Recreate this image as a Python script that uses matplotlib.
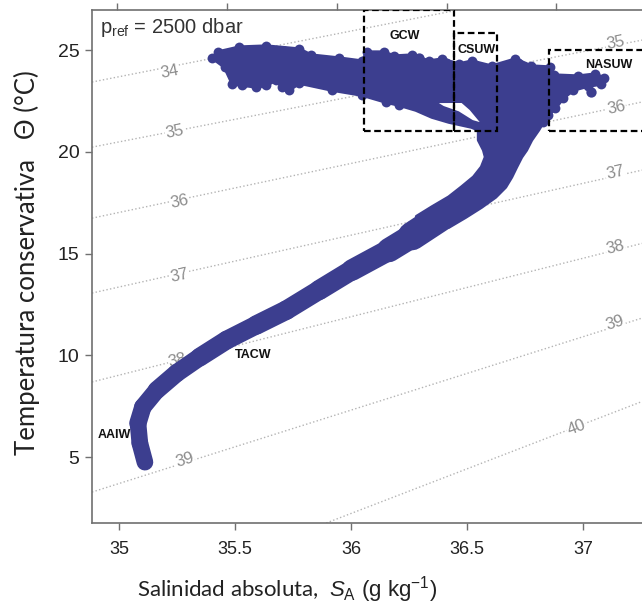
import matplotlib
matplotlib.use('Agg')
import matplotlib.pyplot as plt
from matplotlib.collections import LineCollection
from matplotlib.patches import Rectangle

# values (S_A in g/kg, Theta in degC)

# lower branch of the T-S curve: centre line and stroke width (pt)
stem_S = [35.112, 35.090, 35.082, 35.103, 35.163, 35.249, 35.348, 35.464, 35.592,
          35.721, 35.863, 36.004, 36.163, 36.262, 36.386]
stem_T = [4.75, 5.69, 6.67, 7.46, 8.29, 9.13, 9.91, 10.75, 11.49,
          12.22, 13.21, 14.19, 15.17, 15.86, 16.79]
stem_w = [12, 12, 12.5, 12.5, 13, 13, 13.5, 13.5, 14, 14, 14.5, 15.5, 17.5, 20.5]

# upper (surface) cloud plus the wide part of the stem: outline
cloud_S = [35.403, 35.425, 35.519, 35.635, 35.777, 35.828, 35.948, 36.047, 36.069,
           36.142, 36.185, 36.262, 36.335, 36.391, 36.464, 36.519, 36.605, 36.708,
           36.777, 36.858, 36.876, 36.979, 37.052, 37.090,
           37.077, 37.021, 36.957, 36.914, 36.880, 36.850, 36.828, 36.807, 36.777,
           36.755, 36.734, 36.712, 36.691, 36.665, 36.622, 36.562, 36.494, 36.421,
           36.282, 36.348, 36.421, 36.476, 36.528, 36.562, 36.579, 36.571,
           36.549, 36.549, 36.519, 36.421, 36.348, 36.279, 36.206, 36.150, 36.047,
           35.918, 35.777, 35.734, 35.704, 35.678, 35.635, 35.592, 35.532, 35.489,
           35.455]
cloud_T = [24.607, 24.902, 25.147, 25.197, 25.049, 24.754, 24.607, 24.459, 24.902,
           24.902, 24.705, 24.754, 24.459, 24.558, 24.312, 24.459, 24.214, 24.558,
           24.214, 24.165, 23.771, 23.722, 23.821, 23.624,
           23.329, 23.231, 23.034, 22.641, 22.150, 21.806, 21.462, 21.069, 20.577,
           20.086, 19.742, 19.251, 18.759, 18.268, 17.776, 17.285, 16.794, 16.302,
           16.820, 17.285, 17.776, 18.268, 18.759, 19.251, 19.742, 20.086,
           20.577, 21.069, 21.216, 21.462, 21.708, 22.052, 22.297, 22.445, 22.789,
           23.034, 23.378, 23.034, 23.182, 23.526, 23.280, 23.182, 23.280, 23.329,
           24.165]

# single points standing out of the cloud edge
bump_S = [35.433, 35.562, 35.712, 36.077, 36.185, 36.292, 36.408, 36.532, 36.721,
          37.056, 37.034, 35.541, 35.627, 35.725]
bump_T = [24.754, 24.951, 24.951, 24.754, 24.607, 24.607, 24.361, 24.263, 24.361,
          23.575, 22.936, 23.428, 23.378, 23.231]

# empty sliver inside the cloud
gap_S = [36.378, 36.476, 36.511, 36.554, 36.524, 36.464, 36.399]
gap_T = [22.396, 22.400, 22.052, 21.462, 21.560, 21.990, 22.250]

# sigma isopycnals (straight segments)
iso_levels = [34, 35, 36, 37, 38, 39, 40]
iso_S0 = [34.884, 34.884, 34.884, 34.884, 34.884, 34.884, 35.893]
iso_T0 = [23.43, 20.23, 16.74, 13.06, 8.69, 3.28, 1.76]
iso_S1 = [37.253, 37.253, 37.253, 37.253, 37.253, 37.253, 37.253]
iso_T1 = [28.75, 25.49, 22.45, 19.10, 15.50, 11.83, 7.73]
iso_rot = [11, 11, 12, 12.5, 14, 17.5, 21]

left_lab = [34, 35, 36, 37, 38, 39]
left_lab_S = [35.219, 35.240, 35.262, 35.262, 35.253, 35.283]
left_lab_T = [23.92, 20.97, 17.53, 13.94, 9.77, 4.85]
right_lab = [35, 36, 37, 38, 39, 40]
right_lab_S = [37.137, 37.142, 37.137, 37.137, 37.137, 36.970]
right_lab_T = [25.34, 22.15, 18.96, 15.32, 11.58, 6.47]

# water-mass boxes and names
box_names = ['GCW', 'CSUW', 'NASUW']
box_S0 = [36.056, 36.442, 36.854]
box_S1 = [36.442, 36.627, 37.400]
box_T0 = [21.0, 21.0, 21.0]
box_T1 = [26.95, 25.84, 25.0]
mass_names = ['GCW', 'CSUW', 'NASUW', 'TACW', 'AAIW']
mass_S = [36.23, 36.54, 37.11, 35.58, 34.98]
mass_T = [25.69, 25.02, 24.26, 10.0, 6.08]

xticks = [35, 35.5, 36, 36.5, 37]
yticks = [5, 10, 15, 20, 25]
top_ticks = [34.991, 35.464, 35.940, 36.412, 36.884]

blue = '#3c3e8f'

plt.rcParams['font.family'] = ['Liberation Sans', 'DejaVu Sans']
plt.rcParams['mathtext.fontset'] = 'custom'
plt.rcParams['mathtext.rm'] = 'Liberation Sans'
plt.rcParams['mathtext.it'] = 'Liberation Sans:italic'

fig = plt.figure(figsize=(6.42, 6.09), dpi=100)
ax = fig.add_axes([92 / 642, 86 / 609, 550 / 642, 513 / 609])
ax.set_xlim(34.884, 37.253)
ax.set_ylim(1.76, 26.97)

for k in range(len(iso_levels)):
    ax.plot([iso_S0[k], iso_S1[k]], [iso_T0[k], iso_T1[k]], ls=':', lw=1,
            color='#b4b4b4', zorder=1)
for lab, s, t in zip(left_lab, left_lab_S, left_lab_T):
    ax.text(s, t, str(lab), fontsize=12, color='#8c8c8c', ha='center', va='center',
            rotation=iso_rot[iso_levels.index(lab)],
            bbox=dict(fc='white', ec='none', pad=0.5), zorder=2)
for lab, s, t in zip(right_lab, right_lab_S, right_lab_T):
    ax.text(s, t, str(lab), fontsize=12, color='#8c8c8c', ha='center', va='center',
            rotation=iso_rot[iso_levels.index(lab)],
            bbox=dict(fc='white', ec='none', pad=0.5), zorder=2)

# T-S data
pts = list(zip(stem_S, stem_T))
segs = [[pts[i], pts[i + 1]] for i in range(len(pts) - 1)]
ax.add_collection(LineCollection(segs, linewidths=stem_w, colors=blue,
                                 capstyle='round', joinstyle='round', zorder=3))
ax.fill(cloud_S, cloud_T, fc=blue, ec=blue, lw=2.5, joinstyle='round', zorder=3)
# round dots only along the bumpy surface part of the outline
edge_S = cloud_S[:31] + cloud_S[56:]
edge_T = cloud_T[:31] + cloud_T[56:]
ax.scatter(edge_S, edge_T, s=50, c=blue, lw=0, zorder=3)
ax.scatter(bump_S, bump_T, s=55, c=blue, lw=0, zorder=3)
ax.fill(gap_S, gap_T, fc='white', ec='none', zorder=4)

for k in range(len(box_names)):
    ax.add_patch(Rectangle((box_S0[k], box_T0[k]), box_S1[k] - box_S0[k],
                           box_T1[k] - box_T0[k], fill=False, ec='black', lw=1.6,
                           ls=(0, (3, 1.6)), zorder=5))
for name, s, t in zip(mass_names, mass_S, mass_T):
    ax.text(s, t, name, fontsize=9, fontweight='bold', color='#111111',
            ha='center', va='center', zorder=6)

ax.text(0.015, 0.965, r'p$_{\mathrm{ref}}$ = 2500 dbar', transform=ax.transAxes,
        fontsize=14.5, color='#333333', va='center', ha='left', zorder=6)

for side in ['left', 'bottom', 'top']:
    ax.spines[side].set_color('#707070')
    ax.spines[side].set_linewidth(1.2)
ax.spines['right'].set_visible(False)
ax.set_xticks(xticks)
ax.set_xticklabels(['35', '35.5', '36', '36.5', '37'])
ax.set_yticks(yticks)
ax.tick_params(direction='out', length=5, width=1, color='#707070', top=False,
               right=False, labelcolor='#222222')
ax.tick_params(axis='x', labelsize=13, pad=8)
ax.tick_params(axis='y', labelsize=14, pad=4)

top = ax.secondary_xaxis('top')
top.set_xticks(top_ticks)
top.set_xticklabels([])
top.tick_params(direction='out', length=5, width=1, color='#707070')
top.spines['top'].set_visible(False)

fig.text(287 / 642, 1 - 590 / 609,
         r'Salinidad absoluta,  $S_{\mathrm{A}}\ \mathrm{(g\ kg^{-1})}$',
         ha='center', va='center', fontsize=16, color='#222222',
         family=['Lato', 'DejaVu Sans'])
fig.text(27 / 642, 1 - 263 / 609, 'Temperatura conservativa   \u0398 (\u00b0C)',
         rotation=90, ha='center', va='center', fontsize=18.5, color='#222222',
         family=['Lato', 'DejaVu Sans'])

fig.savefig('out.png', dpi=100)
